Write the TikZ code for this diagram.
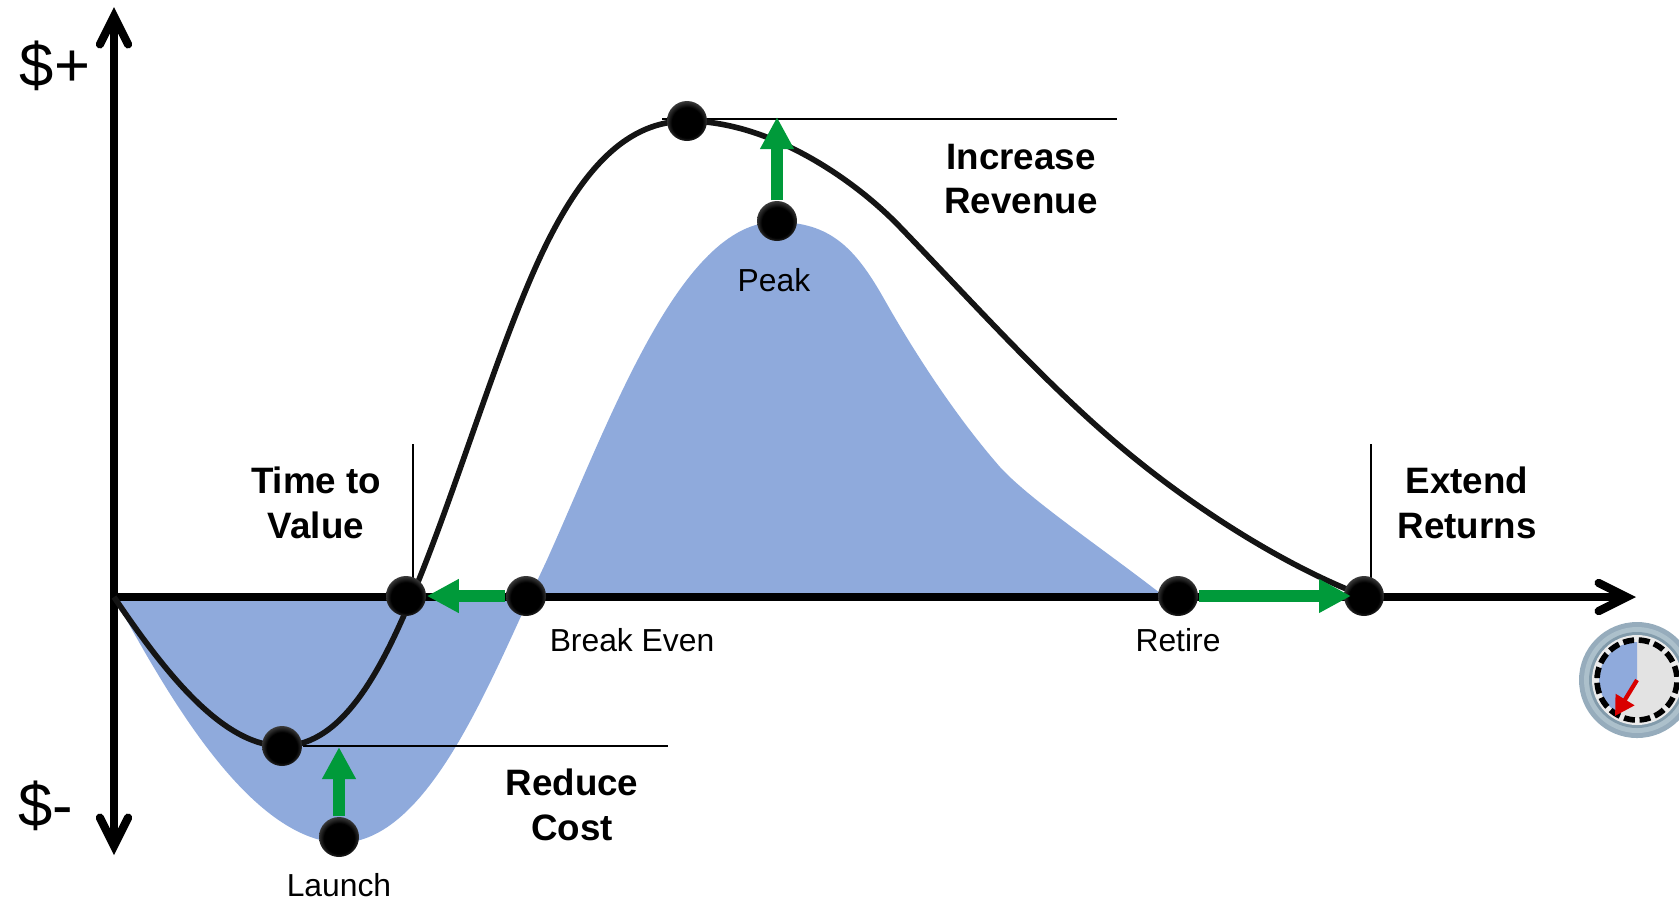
\documentclass[tikz,border=0pt]{standalone}
\usepackage{fontspec}
\setmainfont{Liberation Sans}
\usetikzlibrary{arrows.meta}

\definecolor{areablue}{RGB}{143,170,220}
\definecolor{upgreen}{RGB}{0,154,58}
\definecolor{rimgray}{RGB}{150,172,188}
\definecolor{rimlight}{RGB}{172,192,203}
\definecolor{rimdark}{RGB}{130,155,171}
\pgfdeclareradialshading{dotshade}{\pgfpoint{0bp}{-3bp}}{color(0bp)=(black); color(19bp)=(black); color(28bp)=(black!72); color(50bp)=(black!72)}
\tikzset{
  barb/.tip={Straight Barb[length=8pt,width=8pt,line width=2.35pt,line cap=round,line join=miter]},
  axisline/.style={line width=2.35pt},
  dot/.style={circle, minimum size=11.4pt, inner sep=0pt},
  thin rule/.style={line width=.45pt},
  shift arrow/.style={upgreen, line width=3.2pt, -{Triangle[length=9.1pt,width=9pt]}},
  big label/.style={font=\fontsize{10.45}{12.7}\selectfont\bfseries, align=center},
  small label/.style={font=\fontsize{9.05}{11}\selectfont},
  money label/.style={font=\fontsize{17.5}{19}\selectfont}
}

\begin{document}
\begin{tikzpicture}[x=0.01cm, y=-0.01cm]
\useasboundingbox (0,0) rectangle (1679,899);

\coordinate (o) at (114,597);
\coordinate (ytop) at (114,7);
\coordinate (ybot) at (114,855);
\coordinate (xend) at (1636,597);
\coordinate (toparrow) at (777,117);
\coordinate (lowarrow) at (339,747);
\coordinate (topend) at (1117,119);
\coordinate (topstart) at (662,119);
\coordinate (lowend) at (668,746);
\coordinate (tvtop) at (413,444);
\coordinate (tvbot) at (413,590);
\coordinate (exttop) at (1371,444);
\coordinate (extbot) at (1371,590);

% blue area
\fill[areablue] (o) .. controls (170,700) and (250,838) .. (339,843)
  .. controls (430,843) and (490,680) .. (546,562)
  .. controls (610,420) and (680,222) .. (776,222)
  .. controls (830,222) and (855,248) .. (883,297)
  .. controls (910,345) and (952,412) .. (1000,467)
  .. controls (1030,500) and (1105,550) .. (1165,597) -- cycle;

\node[dot] (launch) at (339,837) {};
\node[dot] (dip) at (282,746) {};
\node[dot] (value) at (406,596) {};
\node[dot] (even) at (526,596) {};
\node[dot] (peak) at (777,221) {};
\node[dot] (top) at (687,121) {};
\node[dot] (retire) at (1178,596) {};
\node[dot] (ext) at (1364,596) {};

\draw[thin rule] (topstart) -- (topend);
\draw[thin rule] (dip) -- (lowend);
\draw[thin rule] (tvtop) -- (tvbot);
\draw[thin rule] (exttop) -- (extbot);

\draw[axisline, barb-barb] (ytop) -- (ybot);
\draw[axisline, -barb] (o) -- (xend);

% cash curve
\draw[line width=1.6pt, black!92] (o) .. controls (160,665) and (220,746) .. (dip.center)
  .. controls (345,746) and (385,664) .. (420,577)
  .. controls (458,482) and (495,360) .. (533,273)
  .. controls (581,163) and (630,121) .. (top.center)
  .. controls (770,121) and (855,180) .. (900,227)
  .. controls (980,310) and (1053,392) .. (1133,457)
  .. controls (1203,514) and (1290,568) .. (ext.center);

% dots over the lines
\foreach \p in {launch,dip,value,even,peak,top,retire,ext}
  \shade[shading=dotshade] (\p) circle (20);

\draw[shift arrow] (peak) -- (toparrow);
\draw[shift arrow] (launch) -- (lowarrow);
\draw[shift arrow] (even) -- (value);
\draw[shift arrow, shorten >=-2.2pt] (retire) -- (ext);

\node[big label] (revenue) at (1021,179) {Increase\\Revenue};
\node[big label] (time) at (316,503) {Time to\\Value};
\node[big label] (returns) at (1467,503) {Extend\\Returns};
\node[big label] (cost) at (572,805) {Reduce\\Cost};
\node[small label] (peaktext) at (774,280) {Peak};
\node[small label] (eventext) at (632,640) {Break Even};
\node[small label] (retiretext) at (1178,640) {Retire};
\node[small label] (launchtext) at (339,885) {Launch};
\node[money label] (plus) at (55,66) {\$+};
\node[money label] (minus) at (46,806) {\$-};

% clock
\coordinate (clock) at (1637,680);
\coordinate (hand) at (1615,716);
\fill[rimgray] (clock) circle (58);
\fill[rimlight] (clock) circle (53);
\fill[rimdark] (clock) circle (48);
\fill[white!92!black] (clock) circle (45);
\fill[black!11] (clock) circle (38);
\fill[areablue] (clock) -- ++(0,-38) arc[start angle=-90, end angle=-238, radius=38] -- cycle;
\draw[line width=1.6pt, dash pattern=on 3.12pt off 1.33pt, dash phase=3.78pt] (clock) circle (40);
\draw[red!85!black, line width=1.2pt, -{Triangle[length=5.5pt,width=6pt]}] (clock) -- (hand);
\end{tikzpicture}
\end{document}
